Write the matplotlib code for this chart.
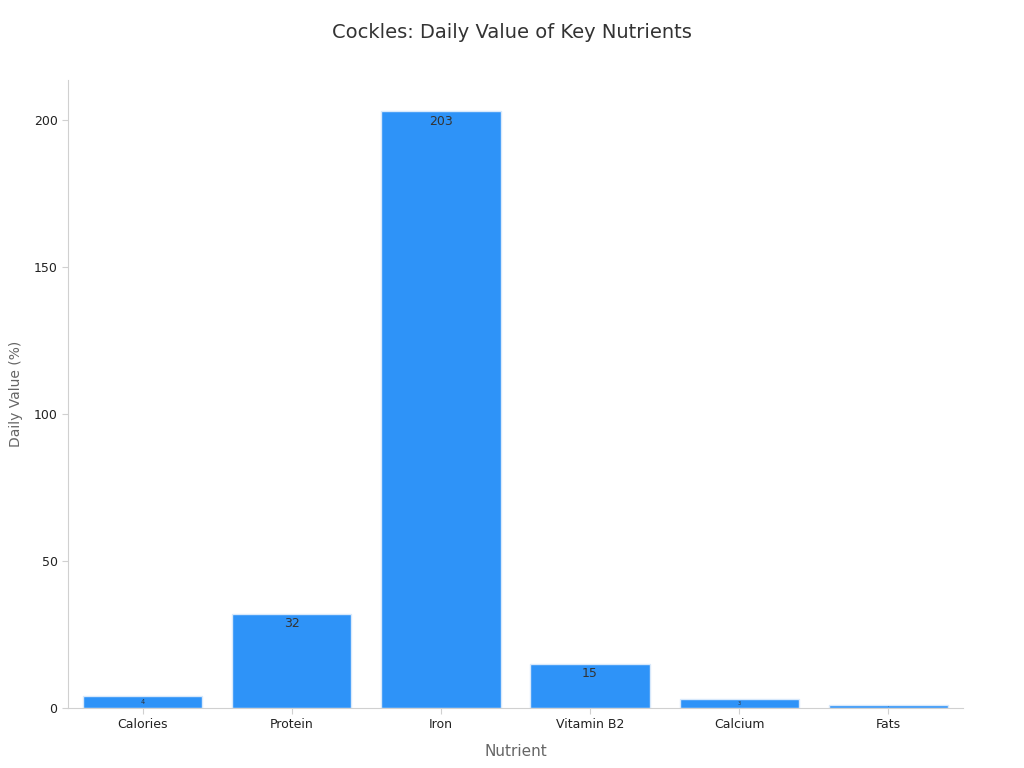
import numpy as np
import matplotlib.pyplot as plt

nutrients = ["Calories", "Protein", "Iron", "Vitamin B2", "Calcium", "Fats"]
daily_value = [4, 32, 203, 15, 3, 1]

x = np.arange(len(nutrients))

fig = plt.figure(figsize=(10.24, 7.68), dpi=100)
ax = fig.add_axes([0.0664, 0.0781, 0.874, 0.8177])

bars = ax.bar(x, daily_value, width=0.8, color="#2E93F8", edgecolor="#d8e9fb", linewidth=1)

ax.set_xlim(-0.5, 5.5)
ax.set_ylim(0, 213.6)

# value labels inside the bars, shrunk to fit the short ones
px_per_unit = ax.transData.transform((0, 1))[1] - ax.transData.transform((0, 0))[1]
for bar, val in zip(bars, daily_value):
    h_px = val * px_per_unit
    y = max(val - 10 / px_per_unit, val / 2)
    ax.text(bar.get_x() + bar.get_width() / 2, y, str(val),
            ha="center", va="center", fontsize=min(9, h_px * 0.4), color="#333333")

ax.set_xticks(x)
ax.set_xticklabels(nutrients)
ax.set_yticks([0, 50, 100, 150, 200])

for s in ["top", "right"]:
    ax.spines[s].set_visible(False)
for s in ["left", "bottom"]:
    ax.spines[s].set_color("#d0d0d0")
ax.tick_params(colors="#d0d0d0", labelcolor="#222222", labelsize=9, length=4)

ax.set_xlabel("Nutrient", fontsize=11, color="#666666", labelpad=9)
ax.set_ylabel("Daily Value (%)", fontsize=10, color="#666666", labelpad=8)
fig.suptitle("Cockles: Daily Value of Key Nutrients", fontsize=14, color="#333333", y=0.97)

fig.savefig("out.png", dpi=100)
